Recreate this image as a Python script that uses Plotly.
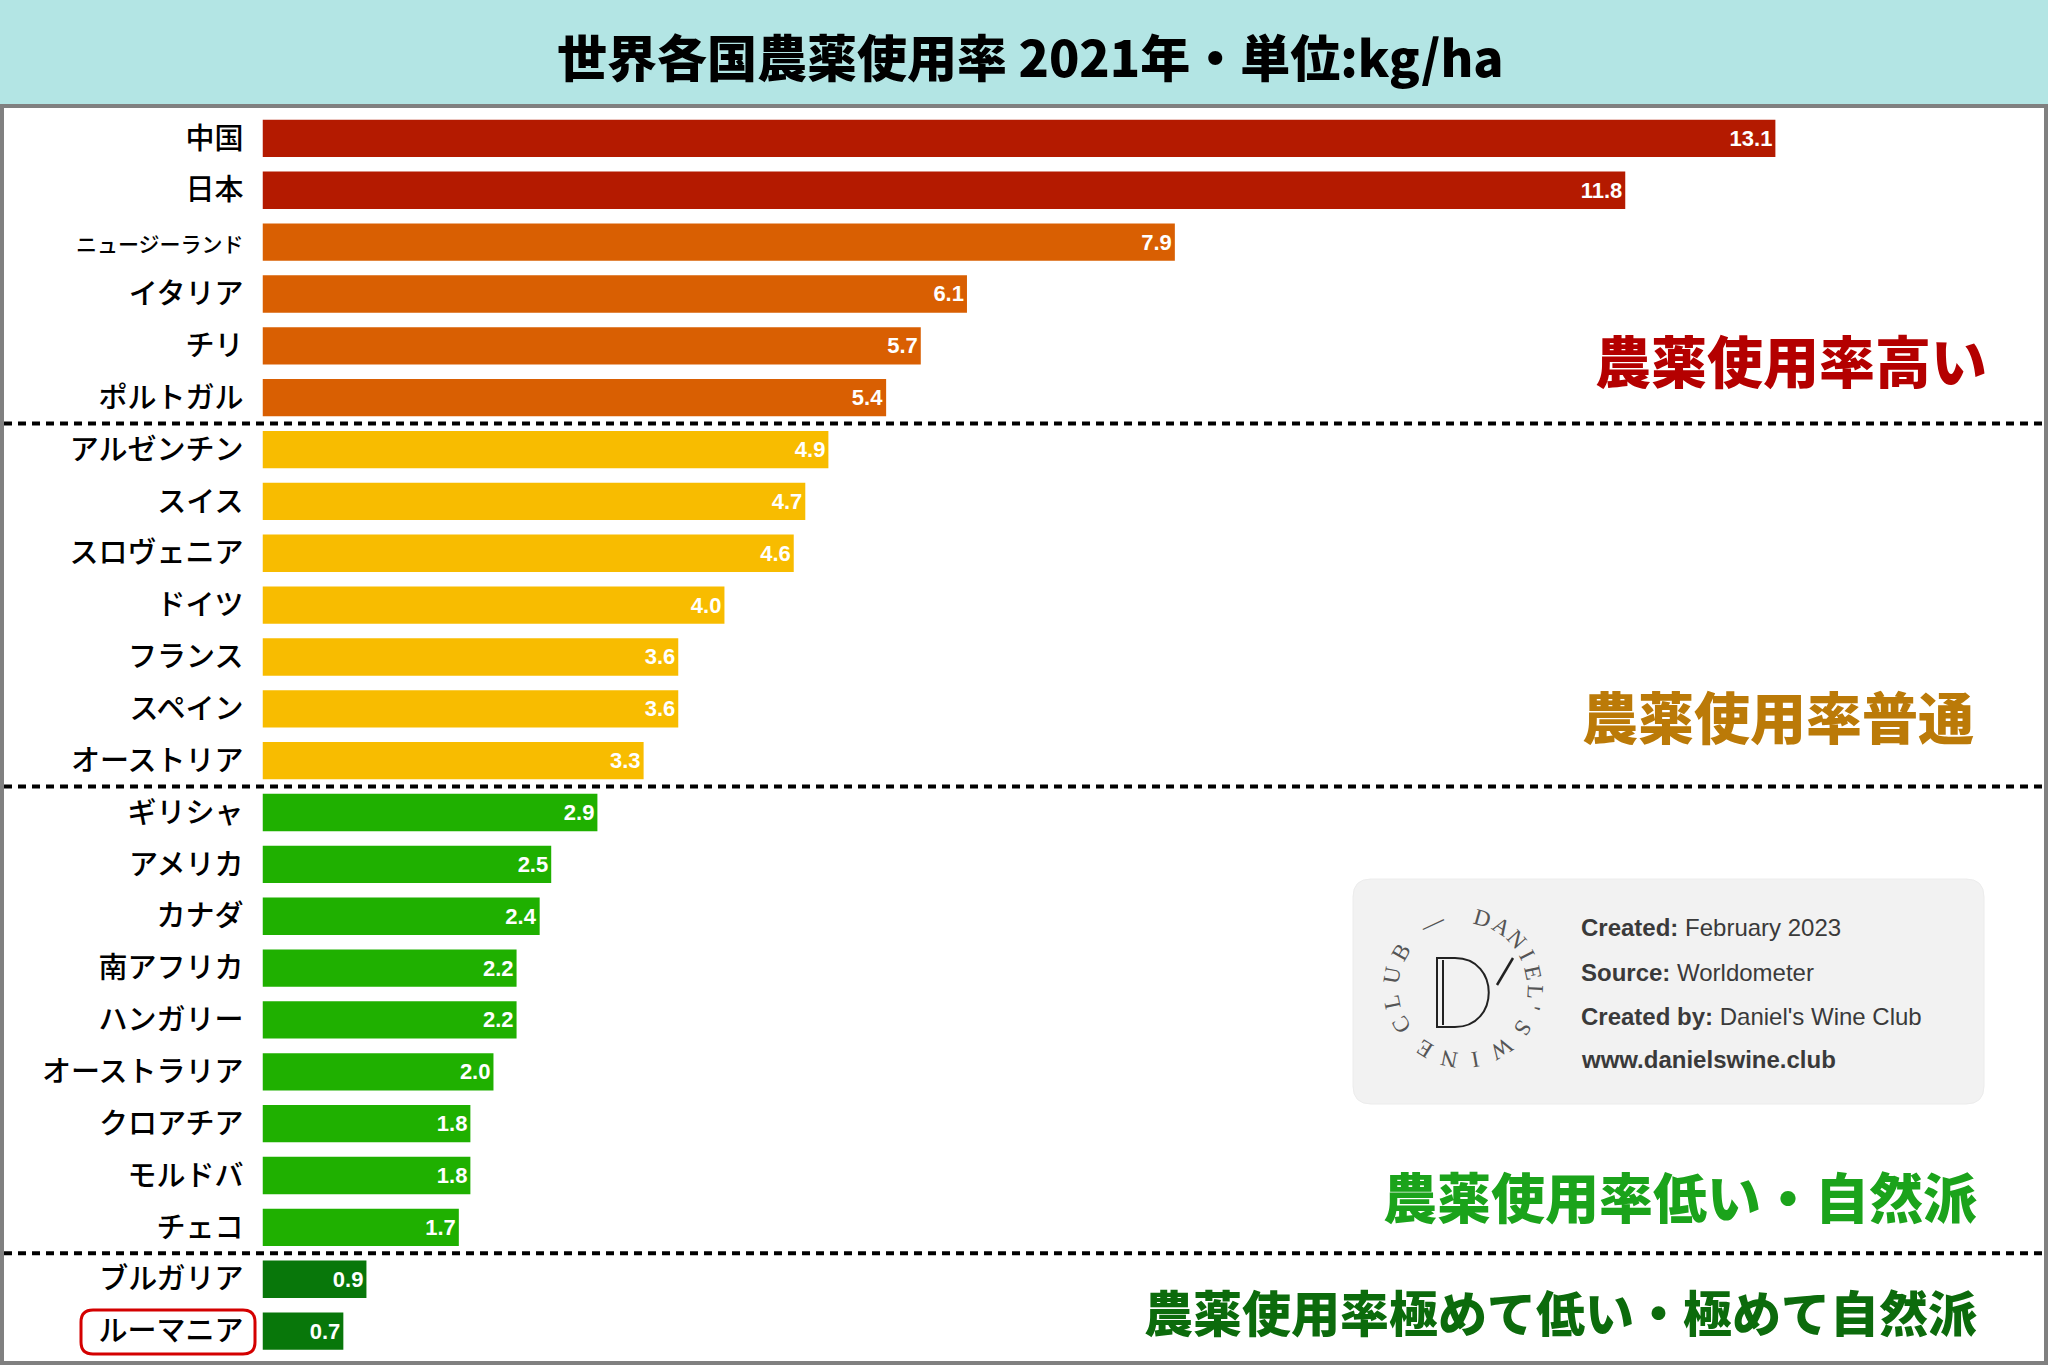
import math
import plotly.graph_objects as go

# --- data ---
countries = [
    "中国", "日本", "ニュージーランド", "イタリア", "チリ", "ポルトガル",
    "アルゼンチン", "スイス", "スロヴェニア", "ドイツ", "フランス", "スペイン", "オーストリア",
    "ギリシャ", "アメリカ", "カナダ", "南アフリカ", "ハンガリー", "オーストラリア",
    "クロアチア", "モルドバ", "チェコ",
    "ブルガリア", "ルーマニア",
]
usage_kg_ha = [
    13.1, 11.8, 7.9, 6.1, 5.7, 5.4,
    4.9, 4.7, 4.6, 4.0, 3.6, 3.6, 3.3,
    2.9, 2.5, 2.4, 2.2, 2.2, 2.0, 1.8, 1.8, 1.7,
    0.9, 0.7,
]
# usage tier per country (0 = highest)
tiers = [0, 0, 1, 1, 1, 1,
         2, 2, 2, 2, 2, 2, 2,
         3, 3, 3, 3, 3, 3, 3, 3, 3,
         4, 4]

tier_colors = ["#b41a00", "#d95f02", "#f8bc00", "#1fb000", "#08770a"]
band_labels = ["農薬使用率高い", "農薬使用率普通", "農薬使用率低い・自然派",
               "農薬使用率極めて低い・極めて自然派"]
band_colors = ["#b40000", "#bb7a08", "#1ba31b", "#0c6b0c"]

title_text = "世界各国農薬使用率 2021年・単位:kg/ha"
info_lines = [("Created:", "February 2023"), ("Source:", "Worldometer"),
              ("Created by:", "Daniel's Wine Club"), ("", "www.danielswine.club")]
highlight = "ルーマニア"

W, H = 2048, 1365
JP = "Noto Sans CJK JP"


def px(x):
    return x / W


def py(y):
    return 1 - y / H


def rounded_rect(x0, y0, x1, y1, r):
    # path in paper coords from pixel corners
    pts = [
        f"M {px(x0 + r)},{py(y0)}",
        f"L {px(x1 - r)},{py(y0)}",
        f"Q {px(x1)},{py(y0)} {px(x1)},{py(y0 + r)}",
        f"L {px(x1)},{py(y1 - r)}",
        f"Q {px(x1)},{py(y1)} {px(x1 - r)},{py(y1)}",
        f"L {px(x0 + r)},{py(y1)}",
        f"Q {px(x0)},{py(y1)} {px(x0)},{py(y1 - r)}",
        f"L {px(x0)},{py(y0 + r)}",
        f"Q {px(x0)},{py(y0)} {px(x0 + r)},{py(y0)}",
        "Z",
    ]
    return " ".join(pts)


idx = list(range(len(countries)))
bar_colors = [tier_colors[t] for t in tiers]

fig = go.Figure()
fig.add_trace(go.Bar(
    y=idx,
    x=usage_kg_ha,
    orientation="h",
    marker=dict(color=bar_colors, line=dict(width=0)),
    texttemplate="%{x:.1f}",
    textposition="inside",
    insidetextanchor="end",
    textangle=0,
    textfont=dict(family="Liberation Sans, Arial, sans-serif", size=22,
                  color="white", weight="bold"),
    hoverinfo="skip",
    showlegend=False,
))

ticktext = []
for c in countries:
    if len(c) > 7:
        ticktext.append(f'<span style="font-size:21px">{c}</span>')
    else:
        ticktext.append(c)

# separators between tiers
shapes = []
for i in range(1, len(tiers)):
    if tiers[i] != tiers[i - 1] and tiers[i - 1] != 0:
        shapes.append(dict(type="line", xref="paper", yref="y",
                           x0=px(4), x1=px(2044), y0=i - 0.5, y1=i - 0.5,
                           line=dict(color="black", width=4, dash="8px,6px")))

# title band + frame
shapes.append(dict(type="rect", xref="paper", yref="paper", x0=0, x1=1,
                   y0=py(104), y1=1, fillcolor="#b3e5e4", line=dict(width=0),
                   layer="below"))
shapes.append(dict(type="rect", xref="paper", yref="paper",
                   x0=px(2), x1=px(2046), y0=py(1363), y1=py(106),
                   line=dict(color="#808080", width=4)))

# highlight box around label
shapes.append(dict(type="path", xref="paper", yref="paper",
                   path=rounded_rect(81, 1310, 255, 1354, 12),
                   line=dict(color="#d40000", width=3)))

# info box
shapes.append(dict(type="path", xref="paper", yref="paper",
                   path=rounded_rect(1353, 879, 1984, 1104, 18),
                   fillcolor="#f2f2f2", line=dict(color="#ececec", width=1)))

# logo: outlined D and slash
d_path = (f"M {px(1437)},{py(958)} L {px(1455)},{py(958)} "
          f"C {px(1500)},{py(958)} {px(1500)},{py(1027)} {px(1455)},{py(1027)} "
          f"L {px(1437)},{py(1027)} Z")
shapes.append(dict(type="path", xref="paper", yref="paper", path=d_path,
                   line=dict(color="#222", width=2)))
shapes.append(dict(type="line", xref="paper", yref="paper",
                   x0=px(1443), x1=px(1443), y0=py(960), y1=py(1025),
                   line=dict(color="#222", width=2)))
shapes.append(dict(type="line", xref="paper", yref="paper",
                   x0=px(1513), x1=px(1497), y0=py(958), y1=py(985),
                   line=dict(color="#222", width=2.5)))

annotations = []
annotations.append(dict(xref="paper", yref="paper", x=px(1030), y=py(55),
                        text=title_text, showarrow=False,
                        xanchor="center", yanchor="middle",
                        font=dict(family=JP, size=50, color="black", weight=900)))

band_pos = [(1989, 359, 56), (1976, 714, 56), (1979, 1195, 54), (1979, 1310, 49)]
for lab, col, (bx, by, fs) in zip(band_labels, band_colors, band_pos):
    annotations.append(dict(xref="paper", yref="paper", x=px(bx), y=py(by),
                            text=lab, showarrow=False,
                            xanchor="right", yanchor="middle",
                            font=dict(family=JP, size=fs, color=col, weight=900)))

line_y = [927, 972, 1016, 1059]
for (k, v), ly in zip(info_lines, line_y):
    txt = (f"<b>{k}</b> {v}" if k else f"<b>{v}</b>")
    annotations.append(dict(xref="paper", yref="paper", x=px(1579), y=py(ly),
                            text=txt, showarrow=False,
                            xanchor="left", yanchor="middle",
                            font=dict(family="Liberation Sans, Arial, sans-serif",
                                      size=24, color="#3a3a3a")))

# circular logo lettering
logo_letters = [("D", 16), ("A", 32), ("N", 48), ("I", 63), ("E", 78), ("L", 93),
                ("'", 105), ("S", 124), ("W", 148), ("I", 170), ("N", 191),
                ("E", 212), ("C", 239), ("L", 259), ("U", 280), ("B", 300),
                ("—", 335)]
cx, cy, rad = 1463, 988, 72
for ch, ang in logo_letters:
    a = math.radians(ang)
    lx = cx + rad * math.sin(a)
    ly = cy - rad * math.cos(a)
    annotations.append(dict(xref="paper", yref="paper", x=px(lx), y=py(ly),
                            text=ch, showarrow=False, textangle=ang,
                            xanchor="center", yanchor="middle",
                            font=dict(family="Liberation Serif, DejaVu Serif, serif",
                                      size=23, color="#555")))

fig.update_layout(
    width=W, height=H,
    margin=dict(l=0, r=0, t=0, b=0),
    paper_bgcolor="white",
    plot_bgcolor="white",
    bargap=0.28,
    shapes=shapes,
    annotations=annotations,
    xaxis=dict(domain=[px(262.5), px(2041)], range=[0, 15.4],
               visible=False, fixedrange=True),
    yaxis=dict(domain=[py(1357), py(112.5)], range=[len(countries) - 0.5, -0.5],
               tickmode="array", tickvals=idx, ticktext=ticktext,
               ticks="", showgrid=False, zeroline=False, showline=False,
               ticklabelstandoff=18,
               tickfont=dict(family=JP, size=29, color="black", weight=500)),
)

fig.write_html("out.html", config={"displayModeBar": False},
               post_script="document.body.style.margin='0';")
